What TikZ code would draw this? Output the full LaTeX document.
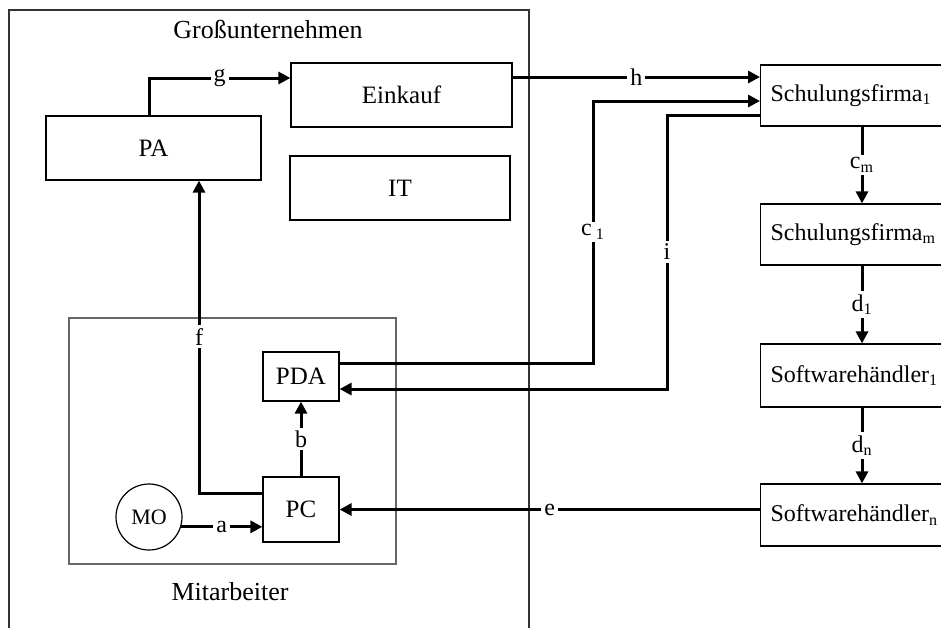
\documentclass[tikz,border=0pt]{standalone}
\usepackage{fontspec}
\setmainfont{Liberation Serif}
\usetikzlibrary{arrows.meta}
\begin{document}
\begin{tikzpicture}[x=0.5pt,y=-0.5pt,
  box/.style={draw, line width=0.6pt, inner sep=0pt, font=\fontsize{12.5}{14}\selectfont},
  rbox/.style={draw, line width=0.6pt, inner xsep=5pt, inner ysep=0pt, anchor=west, font=\fontsize{12}{14}\selectfont},
  conn/.style={line width=1.5pt},
  arr/.style={conn, -{Triangle[length=6pt,width=6pt]}},
  lbl/.style={fill=white, inner sep=1.5pt, font=\fontsize{12}{14}\selectfont},
  plain/.style={font=\fontsize{13}{15}\selectfont}]
\useasboundingbox (0,0) rectangle (941,627);
% outer frame
\draw[line width=0.6pt, black!80] (9,640) -- (9,10) -- (529,10) -- (529,640);
\node[plain] (title) at (268,29) {Großunternehmen};
% Mitarbeiter box
\node[draw, line width=0.6pt, black!60, minimum width=163.5pt, minimum height=123pt, inner sep=0pt] (MA) at (232.5,441) {};
\node[plain] (MAlbl) at (230,592) {Mitarbeiter};
% boxes
\node[box, minimum width=107.5pt, minimum height=32pt] (PA) at (153.5,148) {PA};
\node[box, minimum width=110.5pt, minimum height=32pt] (Ein) at (401.5,95) {Einkauf};
\node[box, minimum width=110pt, minimum height=32pt] (IT) at (400,188) {IT};
\node[box, minimum width=38pt, minimum height=24.5pt] (PDA) at (301,376.5) {PDA};
\node[box, minimum width=38pt, minimum height=32.5pt] (PC) at (301,509.5) {PC};
\node[draw, circle, line width=0.6pt, minimum size=33pt, inner sep=0pt, font=\fontsize{11}{13}\selectfont] (MO) at (149,517) {MO};
% right boxes
\node[rbox, minimum height=30.5pt] (S1) at (760,95.5) {Schulungsfirma\textsubscript{1}};
\node[rbox, minimum height=30.5pt] (Sm) at (760,234.5) {Schulungsfirma\textsubscript{m}};
\node[rbox, minimum height=31.5pt] (W1) at (760,375.5) {Softwarehändler\textsubscript{1}};
\node[rbox, minimum height=31pt] (Wn) at (760,515) {Softwarehändler\textsubscript{n}};
% helper coordinates
\coordinate (gx) at (149,0);
\coordinate (gy) at (0,78);
\coordinate (hy) at (0,77);
\coordinate (fx) at (199,0);
\coordinate (fy) at (0,493);
\coordinate (c1x) at (593,0);
\coordinate (c1y) at (0,363);
\coordinate (c1t) at (0,101);
\coordinate (ix) at (667,0);
\coordinate (iy) at (0,115);
\coordinate (ib) at (0,389);
\coordinate (colx) at (862,0);
% connectors
\draw[arr] (gx |- PA.north) -- (gx |- gy) -- node[lbl]{g} (Ein.west |- gy);
\draw[arr] (Ein.east |- hy) -- node[lbl]{h} (S1.west |- hy);
\draw[arr] (PDA.east |- c1y) -- (c1x |- c1y) -- node[lbl]{c\,\textsubscript{1}} (c1x |- c1t) -- (S1.west |- c1t);
\draw[arr] (S1.west |- iy) -- (ix |- iy) -- node[lbl]{i} (ix |- ib) -- (PDA.east |- ib);
\draw[arr] (PC.west |- fy) -- (fx |- fy) -- node[lbl]{f} (fx |- PA.south);
\draw[arr] (MO.-17.6) -- node[lbl]{a} (PC.west |- MO.-17.6);
\draw[arr] (PC.north) -- node[lbl]{b} (PDA.south);
\draw[arr] (Wn.west |- PC.east) -- node[lbl]{e} (PC.east);
\draw[arr] (colx |- S1.south) -- node[lbl]{c\textsubscript{m}} (colx |- Sm.north);
\draw[arr] (colx |- Sm.south) -- node[lbl]{d\textsubscript{1}} (colx |- W1.north);
\draw[arr] (colx |- W1.south) -- node[lbl]{d\textsubscript{n}} (colx |- Wn.north);
\end{tikzpicture}
\end{document}
